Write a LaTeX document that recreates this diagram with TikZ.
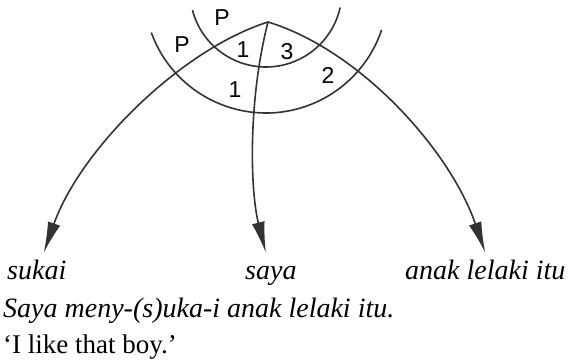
\documentclass[tikz,border=0pt]{standalone}
\usepackage{fontspec}
\setmainfont{Liberation Serif}
\setsansfont{Liberation Sans}
\usetikzlibrary{arrows.meta}
\begin{document}
\begin{tikzpicture}[x=1pt, y=1pt, >={Latex[length=31pt,width=13pt]},
    stroke/.style={line width=1.6pt, black!80},
    word/.style={anchor=base west, inner sep=0pt, text height=27pt, font=\fontsize{28}{30}\selectfont\itshape},
    tag/.style={inner sep=0pt, font=\sffamily\fontsize{23}{23}\selectfont}]
  \useasboundingbox (0,0) rectangle (571,362);
  \coordinate (top) at (268,340);
  \coordinate (hub) at (266,371);
  \node[word] (sukai) at (7,82) {sukai};
  \node[word] (saya) at (245,82) {saya};
  \node[word] (anak) at (405,82) {anak lelaki itu};
  \node[word] (kalimat) at (3,45) {Saya meny-(s)uka-i anak lelaki itu.};
  \node[word, font=\fontsize{27}{30}\selectfont] (arti) at (3,9) {`I like that boy.'};
  \draw[stroke] (hub) ++(194.6:76) arc[start angle=194.6, end angle=347.4, radius=76];
  \draw[stroke] (hub) ++(199.9:122) arc[start angle=199.9, end angle=341.4, radius=122];
  \draw[stroke, ->] (top) .. controls (180,312) and (80,212) .. ([xshift=7pt]sukai.north);
  \draw[stroke, ->] (top) .. controls (248,262) and (250,172) .. ([xshift=-5pt]saya.north);
  \draw[stroke, ->] (top) .. controls (360,312) and (450,212) .. (anak.north);
  \node[tag] (pa) at (222,344) {P};
  \node[tag] (pb) at (182,317) {P};
  \node[tag] (sa) at (243,312) {1};
  \node[tag] (ti) at (287,310) {3};
  \node[tag] (sb) at (235,272) {1};
  \node[tag] (du) at (328,287) {2};
\end{tikzpicture}
\end{document}
